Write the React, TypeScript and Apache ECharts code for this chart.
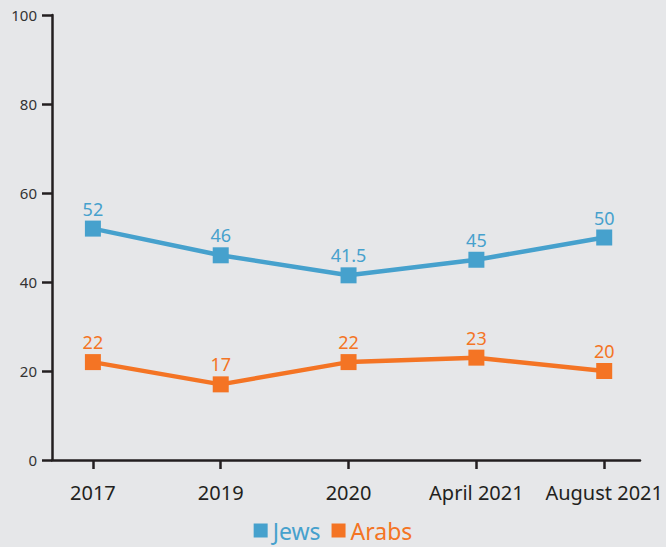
import React, { useEffect, useRef } from "react";
import * as echarts from "echarts";

const categories = ["2017", "2019", "2020", "April 2021", "August 2021"];
const jews = [52, 46, 41.5, 45, 50];
const arabs = [22, 17, 22, 23, 20];
const yTicks = [0, 20, 40, 60, 80, 100];

const BLUE = "#46a1cd";
const ORANGE = "#f47424";
const FONT = "Noto Sans";

export default function App() {
  const ref = useRef<HTMLDivElement>(null);
  useEffect(() => {
    if (!ref.current) return;
    const chart = echarts.init(ref.current, null, { renderer: "svg" });
    const idx = categories.map((_, i) => i);
    const mk = (name: string, vals: number[], color: string) => ({
      name,
      type: "line",
      data: vals.map((v, i) => [i, v]),
      symbol: "rect",
      symbolSize: 16,
      lineStyle: { width: 4.5, color },
      itemStyle: { color },
      label: {
        show: true,
        position: "top",
        distance: 3,
        color,
        fontSize: 18,
        fontFamily: FONT,
        formatter: (p: any) => String(p.value[1]),
      },
    });
    chart.setOption({
      animation: false,
      backgroundColor: "#e6e7e9",
      textStyle: { fontFamily: FONT },
      grid: { left: 52, right: 26, top: 15, bottom: 87, containLabel: false },
      xAxis: {
        type: "value",
        min: -0.32,
        max: 4.28,
        splitLine: { show: false },
        axisLine: { onZero: false, lineStyle: { color: "#231f20", width: 2.5 } },
        axisTick: { show: true, customValues: idx, length: 9, lineStyle: { color: "#231f20", width: 2.5 } },
        axisLabel: {
          customValues: idx,
          margin: 22,
          fontSize: 20,
          color: "#231f20",
          fontFamily: FONT,
          formatter: (v: number) => categories[Math.round(v)] ?? "",
        },
      },
      yAxis: {
        type: "value",
        min: 0,
        max: 100,
        interval: 20,
        splitLine: { show: false },
        axisLine: { show: true, onZero: false, lineStyle: { color: "#231f20", width: 2.5 } },
        axisTick: { show: true, customValues: yTicks, length: 10, lineStyle: { color: "#231f20", width: 2.5 } },
        axisLabel: { customValues: yTicks, margin: 15, fontSize: 15, color: "#333", fontFamily: FONT },
      },
      legend: {
        bottom: 0,
        left: "center",
        icon: "rect",
        itemWidth: 14,
        itemHeight: 14,
        itemGap: 11,
        textStyle: { fontSize: 23, fontFamily: FONT },
        data: [
          { name: "Jews", textStyle: { color: BLUE } },
          { name: "Arabs", textStyle: { color: ORANGE } },
        ],
      },
      series: [mk("Jews", jews, BLUE), mk("Arabs", arabs, ORANGE)],
    });
    return () => chart.dispose();
  }, []);
  return <div ref={ref} style={{ position: "fixed", left: 0, top: 0, width: 666, height: 547 }} />;
}
